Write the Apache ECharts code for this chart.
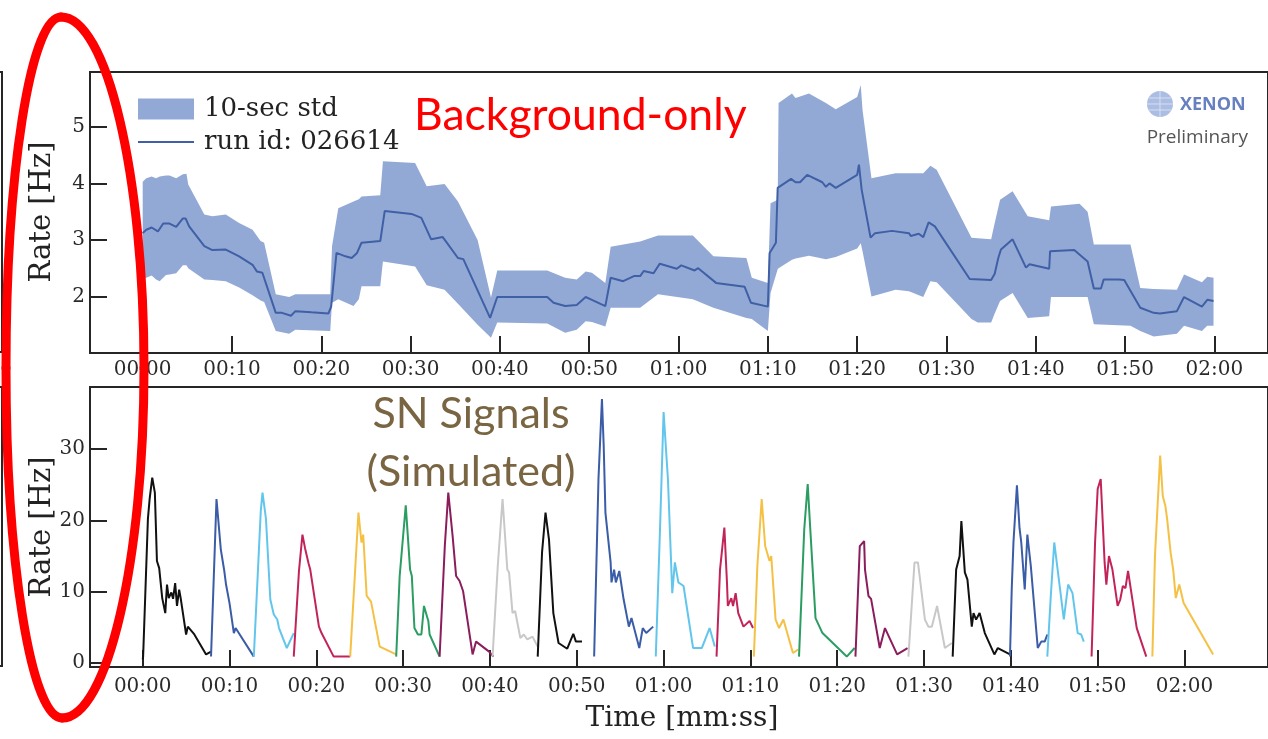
<!DOCTYPE html>
<html>
<head>
<meta charset="utf-8">
<script src="https://cdn.jsdelivr.net/npm/echarts@6/dist/echarts.min.js"></script>
<style>
  html, body { margin: 0; padding: 0; background: #fff; }
  #chart { width: 1268px; height: 739px; }
</style>
</head>
<body>
<div id="chart"></div>
<script>
// top panel: 10-sec std band and mean rate (time in s, rate in Hz)
const bandT  = [0, 0.4, 1.0, 1.5, 1.9, 2.6, 3.0, 3.75, 4.5, 4.9, 5.1, 6.9, 7.8, 9.3, 10.8, 12.3, 13.2, 13.6, 14.9, 16.4, 17.1, 21.0, 21.2, 21.9, 23.6, 24.2, 24.5, 26.6, 26.9, 30.5, 31.8, 33.8, 35.3, 37.5, 39.0, 39.7, 45.3, 47.3, 48.6, 49.6, 50.3, 51.8, 52.4, 55.7, 57.7, 61.6, 63.9, 67.6, 68.2, 70.0, 70.3, 71.1, 71.2, 72.7, 73.1, 74.6, 76.5, 77.6, 80.0, 80.4, 80.6, 81.6, 84.3, 85.8, 87.4, 88.2, 88.9, 92.8, 93.5, 95.0, 95.4, 96.0, 97.4, 99.1, 101.5, 101.7, 104.9, 105.8, 106.5, 110.6, 111.7, 113.2, 115.8, 116.6, 118.6, 119.2, 119.9];
const bandLo = [2.30, 2.33, 2.37, 2.30, 2.27, 2.38, 2.39, 2.41, 2.55, 2.55, 2.50, 2.30, 2.29, 2.27, 2.16, 2.02, 1.93, 1.90, 1.39, 1.34, 1.41, 1.39, 1.89, 1.95, 1.83, 1.95, 2.18, 2.18, 2.62, 2.53, 2.20, 2.12, 1.87, 1.50, 1.27, 1.54, 1.52, 1.36, 1.41, 1.56, 1.55, 1.47, 1.80, 1.80, 2.04, 1.95, 1.80, 1.62, 1.60, 1.39, 2.06, 2.48, 2.50, 2.65, 2.67, 2.72, 2.66, 2.70, 2.85, 2.94, 2.80, 2.00, 2.12, 2.09, 1.99, 2.27, 2.25, 1.60, 1.54, 1.54, 1.70, 1.92, 2.06, 1.62, 1.65, 1.99, 1.99, 1.99, 1.51, 1.48, 1.39, 1.29, 1.34, 1.48, 1.39, 1.48, 1.48];
const bandHi = [4.03, 4.09, 4.12, 4.09, 4.12, 4.14, 4.14, 4.09, 4.16, 4.17, 3.98, 3.45, 3.42, 3.45, 3.30, 3.18, 2.98, 2.95, 2.04, 1.99, 2.04, 2.04, 2.89, 3.56, 3.68, 3.72, 3.77, 3.79, 4.39, 4.36, 3.95, 3.99, 3.68, 3.00, 1.98, 2.46, 2.46, 2.33, 2.30, 2.44, 2.42, 2.24, 2.88, 2.97, 3.08, 3.08, 2.71, 2.68, 2.33, 2.24, 3.65, 3.71, 5.42, 5.59, 5.51, 5.59, 5.42, 5.31, 5.53, 5.74, 5.30, 4.09, 4.18, 4.18, 4.18, 4.31, 4.24, 3.04, 3.03, 3.01, 3.30, 3.71, 3.86, 3.42, 3.35, 3.59, 3.64, 3.50, 2.92, 2.92, 2.15, 2.13, 2.12, 2.39, 2.25, 2.35, 2.33];

const lineT = [0, 0.4, 1.0, 1.7, 2.3, 3.0, 3.75, 4.5, 4.8, 5.2, 6.9, 7.8, 9.3, 10.8, 12.3, 12.8, 13.4, 14.9, 15.6, 16.6, 17.1, 18.9, 20.8, 21.1, 21.7, 22.7, 23.4, 24.0, 24.5, 26.6, 27.1, 30.1, 31.2, 32.3, 33.6, 35.3, 35.9, 38.9, 39.7, 45.3, 46.0, 47.3, 48.6, 49.6, 50.3, 51.8, 52.4, 53.8, 55.0, 55.7, 56.1, 57.2, 57.9, 59.8, 60.3, 61.8, 62.2, 64.2, 67.4, 68.1, 70.0, 70.2, 70.9, 71.1, 72.6, 73.1, 73.6, 74.4, 76.1, 76.5, 76.9, 77.6, 80.0, 80.2, 80.5, 81.5, 82.0, 83.9, 85.8, 86.0, 86.9, 87.4, 88.0, 88.7, 92.6, 95.0, 95.4, 95.8, 96.1, 97.4, 98.9, 99.3, 101.5, 101.6, 104.3, 105.8, 106.5, 107.3, 107.6, 109.3, 109.9, 111.7, 113.2, 113.9, 115.8, 116.6, 118.6, 119.2, 119.9];
const lineV = [3.12, 3.18, 3.22, 3.15, 3.29, 3.29, 3.23, 3.38, 3.38, 3.24, 2.89, 2.82, 2.83, 2.71, 2.56, 2.44, 2.42, 1.71, 1.71, 1.66, 1.74, 1.72, 1.70, 1.82, 2.77, 2.71, 2.68, 2.77, 2.95, 2.98, 3.51, 3.46, 3.39, 3.01, 3.05, 2.68, 2.66, 1.62, 1.99, 1.99, 1.89, 1.83, 1.85, 1.99, 1.94, 1.83, 2.33, 2.27, 2.36, 2.36, 2.45, 2.41, 2.58, 2.49, 2.55, 2.46, 2.50, 2.24, 2.17, 1.89, 1.82, 2.77, 2.95, 3.92, 4.08, 4.02, 4.02, 4.15, 4.02, 3.94, 4.00, 3.92, 4.15, 4.33, 3.89, 3.04, 3.12, 3.16, 3.12, 3.07, 3.11, 3.05, 3.31, 3.24, 2.31, 2.29, 2.40, 2.68, 2.83, 3.01, 2.51, 2.57, 2.49, 2.80, 2.82, 2.62, 2.14, 2.14, 2.30, 2.30, 2.29, 1.80, 1.71, 1.70, 1.74, 1.99, 1.82, 1.94, 1.92];

// bottom panel: simulated SN signals, [time s, rate Hz]
const sig01 = [[0, 0.5], [0.05, 0.9], [0.6, 20.2], [0.8, 23.0], [1.1, 26.0], [1.4, 23.9], [1.64, 14.3], [1.9, 13.3], [2.25, 9.1], [2.6, 7.0], [2.8, 11.0], [3.0, 9.1], [3.3, 9.9], [3.5, 9.0], [3.74, 11.2], [3.95, 8.0], [4.2, 10.3], [4.4, 8.9], [5.0, 4.0], [5.2, 5.1], [5.95, 4.0], [7.3, 1.2], [7.87, 1.6]];
const sig02 = [[7.87, 0.9], [8.5, 23.0], [9.0, 15.9], [9.4, 12.9], [9.6, 11.0], [9.8, 10.8], [10.0, 8.4], [10.5, 4.2], [10.7, 4.9], [12.8, 0.9]];
const sig03 = [[12.8, 0.9], [13.6, 21.3], [13.8, 23.9], [14.2, 20.2], [14.7, 8.9], [15.1, 6.8], [15.5, 6.1], [15.7, 4.9], [16.6, 2.1], [17.4, 4.2]];
const sig04 = [[17.4, 0.9], [18.0, 12.9], [18.4, 18.0], [18.7, 16.1], [19.1, 14.0], [19.3, 13.1], [19.5, 12.9], [20.3, 5.1], [20.6, 4.2], [22.0, 0.9], [23.9, 0.9]];
const sig05 = [[23.9, 0.9], [24.85, 21.1], [25.2, 16.9], [25.4, 18.0], [25.8, 9.4], [26.3, 8.6], [27.3, 2.3], [29.2, 1.2]];
const sig06 = [[29.2, 0.9], [29.6, 12.2], [30.3, 22.1], [30.8, 13.1], [31.0, 12.2], [31.3, 4.9], [31.7, 4.0], [32.1, 4.0], [32.4, 8.0], [32.9, 5.9], [33.05, 4.0], [34.2, 0.9]];
const sig07 = [[34.2, 0.9], [34.8, 16.4], [35.2, 23.9], [35.7, 17.8], [36.1, 12.2], [36.5, 11.5], [36.9, 10.1], [38.0, 1.2], [38.4, 3.0], [39.9, 1.6], [40.4, 0.9]];
const sig08 = [[40.3, 0.9], [40.9, 13.6], [41.45, 23.0], [42.0, 13.1], [42.2, 12.7], [42.6, 7.0], [42.9, 7.3], [43.5, 3.5], [43.9, 4.0], [44.3, 3.3], [44.9, 3.7], [45.5, 2.3]];
const sig09 = [[45.5, 0.9], [46.0, 15.5], [46.4, 21.1], [46.8, 17.3], [47.3, 7.0], [47.9, 2.8], [48.9, 2.0], [49.6, 4.1], [49.9, 3.0], [50.6, 3.0]];
const sig10 = [[52.0, 0.9], [52.5, 25.8], [52.9, 37.0], [53.1, 30.5], [53.3, 21.1], [53.9, 14.1], [54.0, 11.3], [54.3, 13.1], [54.5, 11.3], [54.9, 12.9], [55.4, 8.9], [56.0, 5.1], [56.3, 6.3], [57.2, 2.1], [57.6, 4.9], [58.0, 4.2], [58.8, 5.1]];
const sig11 = [[59.1, 0.9], [59.6, 19.2], [60.0, 35.2], [60.5, 25.8], [61.0, 9.8], [61.3, 14.1], [61.7, 11.3], [62.3, 10.8], [63.4, 2.1], [64.4, 2.1], [65.3, 4.9], [65.9, 2.3]];
const sig12 = [[66.1, 0.9], [66.5, 13.1], [67.0, 19.0], [67.3, 11.3], [67.4, 8.0], [67.8, 9.1], [68.0, 8.0], [68.3, 9.8], [68.6, 7.0], [69.2, 5.1], [69.9, 5.9], [70.3, 4.9]];
const sig13 = [[70.4, 0.9], [70.8, 13.6], [71.3, 23.0], [71.7, 16.4], [72.2, 14.3], [72.4, 15.0], [72.9, 6.1], [73.3, 4.9], [73.8, 6.1], [74.9, 1.4], [75.5, 1.9]];
const sig14 = [[75.6, 0.9], [76.2, 18.7], [76.6, 25.1], [76.9, 18.7], [77.5, 6.3], [78.3, 4.2], [81.1, 0.9], [82.0, 2.1]];
const sig15 = [[82.1, 0.9], [82.6, 16.4], [83.1, 17.1], [83.2, 13.1], [83.6, 9.4], [83.9, 9.0], [84.9, 2.1], [85.5, 4.9], [86.9, 1.2], [88.1, 2.1]];
const sig16 = [[88.2, 0.9], [88.9, 14.1], [89.3, 14.1], [90.1, 6.1], [90.5, 5.1], [90.9, 5.1], [91.5, 8.0], [92.4, 2.1], [93.2, 2.8]];
const sig17 = [[93.3, 0.9], [93.7, 13.1], [94.1, 15.0], [94.3, 19.9], [94.7, 12.7], [95.0, 11.7], [95.5, 5.1], [95.7, 7.0], [96.0, 6.1], [96.4, 7.0], [97.0, 4.2], [98.1, 1.2], [98.5, 2.1], [99.9, 1.2]];
const sig18 = [[99.9, 0.9], [100.1, 10.3], [100.3, 16.9], [100.7, 24.9], [101.0, 18.9], [101.2, 16.9], [101.6, 10.3], [101.9, 18.0], [102.3, 13.6], [103.1, 2.1], [103.5, 3.0], [103.9, 3.0], [104.2, 4.0]];
const sig19 = [[104.2, 0.9], [104.6, 9.4], [105.0, 16.9], [105.5, 12.0], [106.1, 6.1], [106.6, 11.0], [107.1, 9.8], [107.7, 4.2], [108.1, 4.0], [108.4, 3.0]];
const sig20 = [[109.3, 0.9], [109.7, 16.9], [110.0, 24.4], [110.35, 25.8], [110.8, 14.1], [111.0, 11.0], [111.3, 15.0], [111.7, 13.1], [112.3, 8.0], [112.6, 8.9], [112.9, 10.8], [113.2, 10.5], [113.5, 12.9], [114.0, 8.9], [114.5, 4.9], [115.6, 0.9]];
const sig21 = [[116.3, 0.9], [116.6, 15.0], [117.2, 29.1], [117.5, 23.4], [117.8, 22.0], [118.0, 20.2], [118.4, 15.5], [118.7, 13.1], [119.0, 9.1], [119.4, 11.0], [119.9, 8.4], [123.3, 1.2]];
const signals = [sig01, sig02, sig03, sig04, sig05, sig06, sig07, sig08, sig09, sig10, sig11, sig12, sig13, sig14, sig15, sig16, sig17, sig18, sig19, sig20, sig21];

// ticks
const xTicks = [0, 10, 20, 30, 40, 50, 60, 70, 80, 90, 100, 110, 120];
const yTicksTop = [2, 3, 4, 5];
const yTicksBottom = [0, 10, 20, 30];

// axis ranges
const xTopMin = -5.9, xTopMax = 126.0;
const xBotMin = -6.07, xBotMax = 129.62;

const BAND = '#93a9d5';
const LINE = '#3f60a6';
const INK = '#262626';
const SERIF = 'DejaVu Serif';
const TICK = 17;
const palette = ['#111111', '#3b5ca6', '#62c6ec', '#c2245a', '#f5c145', '#2b9d63', '#8b1d5c', '#c8c8c8'];

function mmss(v) {
  const m = Math.floor(v / 60), s = Math.round(v % 60);
  return String(m).padStart(2, '0') + ':' + String(s).padStart(2, '0');
}

function xAxisFor(idx, min, max) {
  return {
    type: 'value', gridIndex: idx, min: min, max: max,
    axisLine: {show: true, onZero: false, lineStyle: {color: INK, width: 2}},
    splitLine: {show: false},
    axisTick: {show: true, inside: true, length: TICK, customValues: xTicks, lineStyle: {color: INK, width: 2}},
    axisLabel: {customValues: xTicks, formatter: mmss, fontFamily: SERIF, fontSize: 20, color: '#2a2a2a', margin: idx === 0 ? 7 : 10}
  };
}

function yAxisFor(idx, min, max, ticks) {
  return {
    type: 'value', gridIndex: idx, min: min, max: max,
    axisLine: {show: true, onZero: false, lineStyle: {color: INK, width: 2}},
    splitLine: {show: false},
    axisTick: {show: true, inside: true, length: TICK, customValues: ticks, lineStyle: {color: INK, width: 2}},
    axisLabel: {customValues: ticks, fontFamily: SERIF, fontSize: 20, color: '#2a2a2a', margin: 5}
  };
}

// std band: one polygon, upper edge forward then lower edge back
function renderBand(params, api) {
  if (params.dataIndex !== 0) return;
  const pts = [];
  for (let i = 0; i < bandT.length; i++) pts.push(api.coord([bandT[i], bandHi[i]]));
  for (let i = bandT.length - 1; i >= 0; i--) pts.push(api.coord([bandT[i], bandLo[i]]));
  return {type: 'polygon', shape: {points: pts}, style: {fill: BAND}};
}

const series = [
  {
    name: '10-sec std', type: 'custom', xAxisIndex: 0, yAxisIndex: 0,
    renderItem: renderBand, data: [[bandT[0], bandLo[0]]],
    itemStyle: {color: BAND}, silent: true, z: 1
  },
  {
    name: 'run id: 026614', type: 'line', xAxisIndex: 0, yAxisIndex: 0,
    data: lineT.map((t, i) => [t, lineV[i]]),
    symbol: 'none', itemStyle: {color: LINE}, lineStyle: {color: LINE, width: 2}, z: 2
  }
];
signals.forEach((s, i) => {
  series.push({
    name: 'sig' + (i + 1), type: 'line', xAxisIndex: 1, yAxisIndex: 1, data: s,
    symbol: 'none', lineStyle: {color: palette[i % palette.length], width: 2}, silent: true, z: 2
  });
});

// hand drawn red ellipse on the left (four bezier quarters)
const ring = [
  [61, 17, 106.8, 17, 144, 174, 144, 368],
  [144, 368, 144, 561, 107.3, 718, 62, 718],
  [62, 718, 31.1, 718, 6, 561, 6, 368],
  [6, 368, 6, 174, 30.6, 17, 61, 17]
];

const graphics = [
  // edges of neighbouring panels, cut off at the left
  {type: 'rect', shape: {x: -100, y: 72, width: 102, height: 280}, style: {fill: 'transparent', stroke: INK, lineWidth: 2}},
  {type: 'rect', shape: {x: -100, y: 387, width: 102, height: 279}, style: {fill: 'transparent', stroke: INK, lineWidth: 2}},
  // axis titles
  {type: 'text', x: 42, y: 212, rotation: Math.PI / 2, style: {text: 'Rate [Hz]', fill: '#222', font: '29px "DejaVu Serif"', align: 'center', verticalAlign: 'middle'}, z: 50},
  {type: 'text', x: 42, y: 527, rotation: Math.PI / 2, style: {text: 'Rate [Hz]', fill: '#222', font: '29px "DejaVu Serif"', align: 'center', verticalAlign: 'middle'}, z: 50},
  {type: 'text', x: 682, y: 719, style: {text: 'Time [mm:ss]', fill: '#222', font: '28px "DejaVu Serif"', align: 'center', verticalAlign: 'middle'}, z: 50},
  // annotations
  {type: 'text', x: 414, y: 116, style: {text: 'Background-only', fill: '#ff0000', font: '44.5px Lato', verticalAlign: 'middle'}, z: 50},
  {type: 'text', x: 471, y: 414, style: {text: 'SN Signals', fill: '#7a6543', font: '43px Lato', align: 'center', verticalAlign: 'middle'}, z: 50},
  {type: 'text', x: 471, y: 472, style: {text: '(Simulated)', fill: '#7a6543', font: '43px Lato', align: 'center', verticalAlign: 'middle'}, z: 50},
  {type: 'circle', shape: {cx: 1160, cy: 104, r: 13}, style: {fill: '#abbde2'}, z: 50},
  {type: 'line', shape: {x1: 1148.5, y1: 98, x2: 1171.5, y2: 98}, style: {stroke: '#d6e0f3', lineWidth: 1}, z: 51},
  {type: 'line', shape: {x1: 1147, y1: 104, x2: 1173, y2: 104}, style: {stroke: '#d6e0f3', lineWidth: 1}, z: 51},
  {type: 'line', shape: {x1: 1148.5, y1: 110, x2: 1171.5, y2: 110}, style: {stroke: '#d6e0f3', lineWidth: 1}, z: 51},
  {type: 'line', shape: {x1: 1160, y1: 91, x2: 1160, y2: 117}, style: {stroke: '#d6e0f3', lineWidth: 1}, z: 51},
  {type: 'text', x: 1180, y: 105, style: {text: 'XENON', fill: '#6680c0', font: 'bold 18px "Open Sans"', verticalAlign: 'middle'}, z: 50},
  {type: 'text', x: 1248, y: 138, style: {text: 'Preliminary', fill: '#555555', font: '19px "Open Sans"', align: 'right', verticalAlign: 'middle'}, z: 50}
];
ring.forEach(c => {
  graphics.push({
    type: 'bezierCurve', z: 100, zlevel: 3,
    shape: {x1: c[0], y1: c[1], cpx1: c[2], cpy1: c[3], cpx2: c[4], cpy2: c[5], x2: c[6], y2: c[7]},
    style: {stroke: '#ff0000', lineWidth: 9, fill: 'transparent', lineCap: 'round'}
  });
});

const options = {
  animation: false,
  backgroundColor: '#ffffff',
  grid: [
    {left: 90, top: 72, width: 1185, height: 281, show: true, borderColor: INK, borderWidth: 2, backgroundColor: 'transparent'},
    {left: 90, top: 387, width: 1185, height: 280, show: true, borderColor: INK, borderWidth: 2, backgroundColor: 'transparent'}
  ],
  xAxis: [xAxisFor(0, xTopMin, xTopMax), xAxisFor(1, xBotMin, xBotMax)],
  yAxis: [yAxisFor(0, 1, 5.97, yTicksTop), yAxisFor(1, -0.56, 38.7, yTicksBottom)],
  legend: {
    orient: 'vertical', left: 137, top: 96, padding: 0,
    itemWidth: 56, itemHeight: 21, itemGap: 7, selectedMode: false,
    textStyle: {fontFamily: SERIF, fontSize: 26, color: '#222', padding: [0, 0, 0, 5]},
    data: [
      {name: '10-sec std', icon: 'rect', itemStyle: {color: BAND}},
      {name: 'run id: 026614', itemStyle: {opacity: 0}}
    ]
  },
  series: series,
  graphic: graphics
};

const chart = echarts.init(document.getElementById('chart'));
chart.setOption(options);
</script>
</body>
</html>
